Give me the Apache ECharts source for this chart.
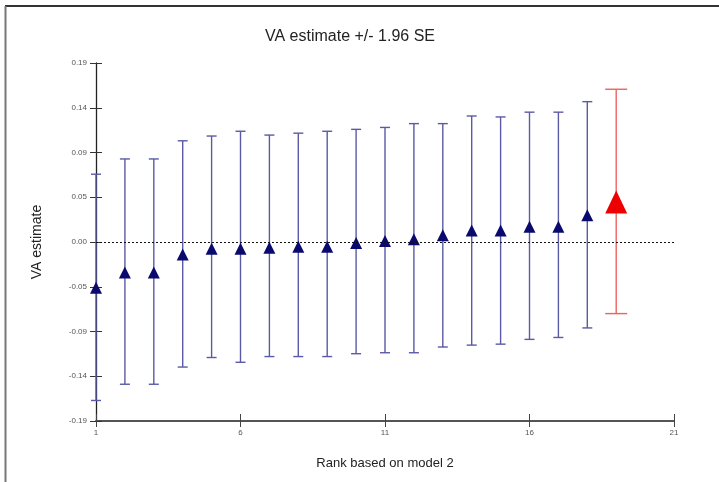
<!DOCTYPE html>
<html>
<head>
<meta charset="utf-8">
<script src="https://cdn.jsdelivr.net/npm/echarts@6/dist/echarts.min.js"></script>
<style>
  html, body { margin: 0; padding: 0; background: #fff; }
  #chart { width: 719px; height: 482px; }
</style>
</head>
<body>
<div id="chart"></div>
<script>
// Value-added estimates by rank, with 95% intervals (estimate +/- 1.96 SE)
const ranks      = [1, 2, 3, 4, 5, 6, 7, 8, 9, 10, 11, 12, 13, 14, 15, 16, 17, 18, 19];
const vaEstimate = [-0.048, -0.032, -0.032, -0.013, -0.007, -0.007, -0.006, -0.005, -0.005, -0.001, 0.001, 0.003, 0.007, 0.012, 0.012, 0.016, 0.016, 0.028, 0.042];
const ciLower    = [-0.166, -0.149, -0.149, -0.131, -0.121, -0.126, -0.120, -0.120, -0.120, -0.117, -0.116, -0.116, -0.110, -0.108, -0.107, -0.102, -0.100, -0.090, -0.075];
const ciUpper    = [0.071, 0.087, 0.087, 0.106, 0.111, 0.116, 0.112, 0.114, 0.116, 0.118, 0.120, 0.124, 0.124, 0.132, 0.131, 0.136, 0.136, 0.147, 0.160];
const highlightRank = 19;

const yTickStep = 0.046875;
const xTickStep = 5;

const blueBar = '#5a5aa6';
const redBar = '#f06060';

const barData = ranks.map((r, i) => [r, ciLower[i], ciUpper[i]]);
const pointsBlue = ranks.map((r, i) => [r, vaEstimate[i]]).filter(d => d[0] !== highlightRank);
const pointsRed = ranks.map((r, i) => [r, vaEstimate[i]]).filter(d => d[0] === highlightRank);

const chart = echarts.init(document.getElementById('chart'));
const font = '"Liberation Sans", Arial, sans-serif';

const sharedX = { type: 'value', min: 1, max: 21, interval: xTickStep, position: 'bottom' };
const sharedY = { type: 'value', min: -4 * yTickStep, max: 4 * yTickStep, interval: yTickStep, position: 'left' };

chart.setOption({
  animation: false,
  backgroundColor: '#fff',
  title: {
    text: 'VA estimate +/- 1.96 SE',
    left: 345, top: 24, textAlign: 'center',
    textStyle: { fontFamily: font, fontSize: 16, fontWeight: 'normal', color: '#222' }
  },
  grid: { left: 96, right: 45, top: 63, bottom: 61 },
  xAxis: [
    Object.assign({}, sharedX, {
      name: 'Rank based on model 2', nameLocation: 'middle', nameGap: 36,
      nameTextStyle: { fontFamily: font, fontSize: 13, color: '#222' },
      axisLine: { show: true, onZero: false, lineStyle: { color: '#555', width: 2 } },
      axisTick: { show: true, length: 6, lineStyle: { color: '#444', width: 1 } },
      axisLabel: { fontFamily: font, fontSize: 8, color: '#555', margin: 8 },
      splitLine: { show: false }
    }),
    Object.assign({}, sharedX, {
      axisLine: { show: false, onZero: false },
      axisTick: { show: true, inside: true, length: 7, lineStyle: { color: '#444', width: 1 } },
      axisLabel: { show: false },
      splitLine: { show: false }
    })
  ],
  yAxis: [
    Object.assign({}, sharedY, {
      name: 'VA estimate', nameLocation: 'middle', nameGap: 52, nameRotate: 90,
      nameTextStyle: { fontFamily: font, fontSize: 14, color: '#222' },
      axisLine: { show: true, onZero: false, lineStyle: { color: '#222', width: 1.3 } },
      axisTick: { show: true, length: 6, lineStyle: { color: '#333', width: 1 } },
      axisLabel: { fontFamily: font, fontSize: 8, color: '#555', margin: 9,
        formatter: v => v.toFixed(2) },
      splitLine: { show: false }
    }),
    Object.assign({}, sharedY, {
      axisLine: { show: false, onZero: false },
      axisTick: { show: true, inside: true, length: 6, lineStyle: { color: '#333', width: 1 } },
      axisLabel: { show: false },
      splitLine: { show: false }
    })
  ],
  graphic: [
    { type: 'line', shape: { x1: 5, y1: 6, x2: 719, y2: 6 }, style: { stroke: '#333', lineWidth: 2 }, z: 10 },
    { type: 'line', shape: { x1: 5.5, y1: 6, x2: 5.5, y2: 482 }, style: { stroke: '#777', lineWidth: 2 }, z: 10 }
  ],
  series: [
    {
      type: 'custom',
      data: barData,
      z: 2,
      renderItem: (params, api) => {
        const r = api.value(0);
        const lo = api.coord([r, api.value(1)]);
        const hi = api.coord([r, api.value(2)]);
        const hot = r === highlightRank;
        const half = hot ? 11 : 5;
        const style = { stroke: hot ? redBar : blueBar, lineWidth: 1.4 };
        return {
          type: 'group',
          children: [
            { type: 'line', shape: { x1: hi[0], y1: hi[1], x2: lo[0], y2: lo[1] }, style: style },
            { type: 'line', shape: { x1: hi[0] - half, y1: hi[1], x2: hi[0] + half, y2: hi[1] }, style: style },
            { type: 'line', shape: { x1: lo[0] - half, y1: lo[1], x2: lo[0] + half, y2: lo[1] }, style: style }
          ]
        };
      }
    },
    {
      type: 'scatter',
      data: pointsBlue,
      symbol: 'triangle',
      symbolSize: 12,
      itemStyle: { color: '#0a0a6e', opacity: 1 },
      z: 4,
      markLine: {
        silent: true,
        symbol: 'none',
        label: { show: false },
        lineStyle: { color: '#111', type: [2, 2], width: 1 },
        data: [{ yAxis: 0 }]
      }
    },
    {
      type: 'scatter',
      data: pointsRed,
      symbol: 'triangle',
      symbolSize: [22, 23],
      itemStyle: { color: '#ee0000', opacity: 1 },
      z: 4
    }
  ]
});
</script>
</body>
</html>
